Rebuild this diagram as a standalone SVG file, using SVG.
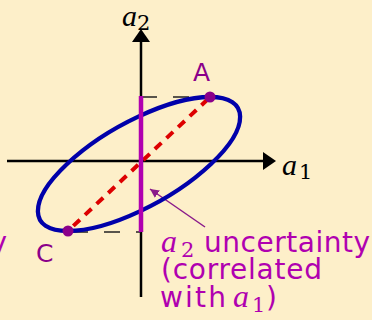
<svg xmlns="http://www.w3.org/2000/svg" width="372" height="320" viewBox="0 0 372 320">
<defs>
<style>
.axis{stroke:#000;stroke-width:2.5;fill:none}
.guide{stroke:#222;stroke-width:1.6;stroke-dasharray:16 16;fill:none}
.math{font-family:"Liberation Serif","DejaVu Serif",serif;font-style:italic;fill:#000}
.sub{font-family:"DejaVu Serif","Liberation Serif",serif;fill:#000}
.pt{fill:#8a008a}
.ptlab{font-family:"DejaVu Sans",sans-serif;font-size:25px;fill:#8a008a}
.note{font-family:"DejaVu Sans",sans-serif;font-size:28px;fill:#b000b0}
.notem{font-family:"Liberation Serif",serif;font-style:italic;font-size:32px;fill:#b000b0}
.notes{font-family:"DejaVu Serif",serif;font-size:21px;fill:#b000b0}
</style>
<marker id="ah" viewBox="0 0 10 10" refX="10" refY="5" markerWidth="6" markerHeight="6" markerUnits="strokeWidth" orient="auto">
<path d="M0,0 L10,5 L0,10 z" fill="#8a1a8a"/>
</marker>
</defs>
<rect width="372" height="320" fill="#fdefc9"/>
<g id="connectors">
<line class="axis" x1="141" y1="297" x2="141" y2="41"/>
<path d="M132,42 L141,29 L150,42 z" fill="#000"/>
<line class="axis" x1="7" y1="161" x2="264" y2="161"/>
<path d="M263,152 L276,161 L263,170 z" fill="#000"/>
<line class="guide" x1="141" y1="97" x2="210" y2="97"/>
<line class="guide" x1="72" y1="232" x2="141" y2="232"/>
<line x1="205" y1="227" x2="150" y2="189" stroke="#8a1a8a" stroke-width="1.5" marker-end="url(#ah)"/>
</g>
<g id="ellipse">
<path d="M210,97 C249.77,97 250.21,127 211,164 C171.79,201 107.77,231 68,231 C28.23,231 27.79,201 67,164 C106.21,127 170.23,97 210,97 Z" fill="none" stroke="#0000aa" stroke-width="4.3"/>
</g>
<g id="correlation">
<line x1="208" y1="99" x2="70" y2="229" stroke="#dd0000" stroke-width="4" stroke-dasharray="9 7"/>
</g>
<g id="uncertainty-bar">
<line x1="141" y1="96" x2="141" y2="232" stroke="#b000b0" stroke-width="4.5"/>
</g>
<g id="pointA">
<circle class="pt" cx="210" cy="97" r="5.5"/>
<text class="ptlab" x="193" y="81">A</text>
</g>
<g id="pointC">
<circle class="pt" cx="68" cy="231" r="5.5"/>
<text class="ptlab" x="36" y="262">C</text>
</g>
<g id="axis-labels">
<text class="math" x="122" y="26" font-size="30">a</text>
<text class="sub" x="137" y="30" font-size="21">2</text>
<text class="math" x="282" y="175" font-size="30">a</text>
<text class="sub" x="299" y="179" font-size="21">1</text>
</g>
<g id="label">
<text class="notem" x="161" y="252">a</text>
<text class="notes" x="181" y="257">2</text>
<text class="note" x="204" y="252" textLength="166" lengthAdjust="spacing">uncertainty</text>
<text class="note" x="161" y="279" textLength="161" lengthAdjust="spacing">(correlated</text>
<text class="note" x="160" y="307" textLength="66" lengthAdjust="spacing">with</text>
<text class="notem" x="233" y="307">a</text>
<text class="notes" x="252" y="312">1</text>
<text class="note" x="266" y="307">)</text>
<text class="note" x="7" y="252" text-anchor="end">y</text>
</g>
</svg>
